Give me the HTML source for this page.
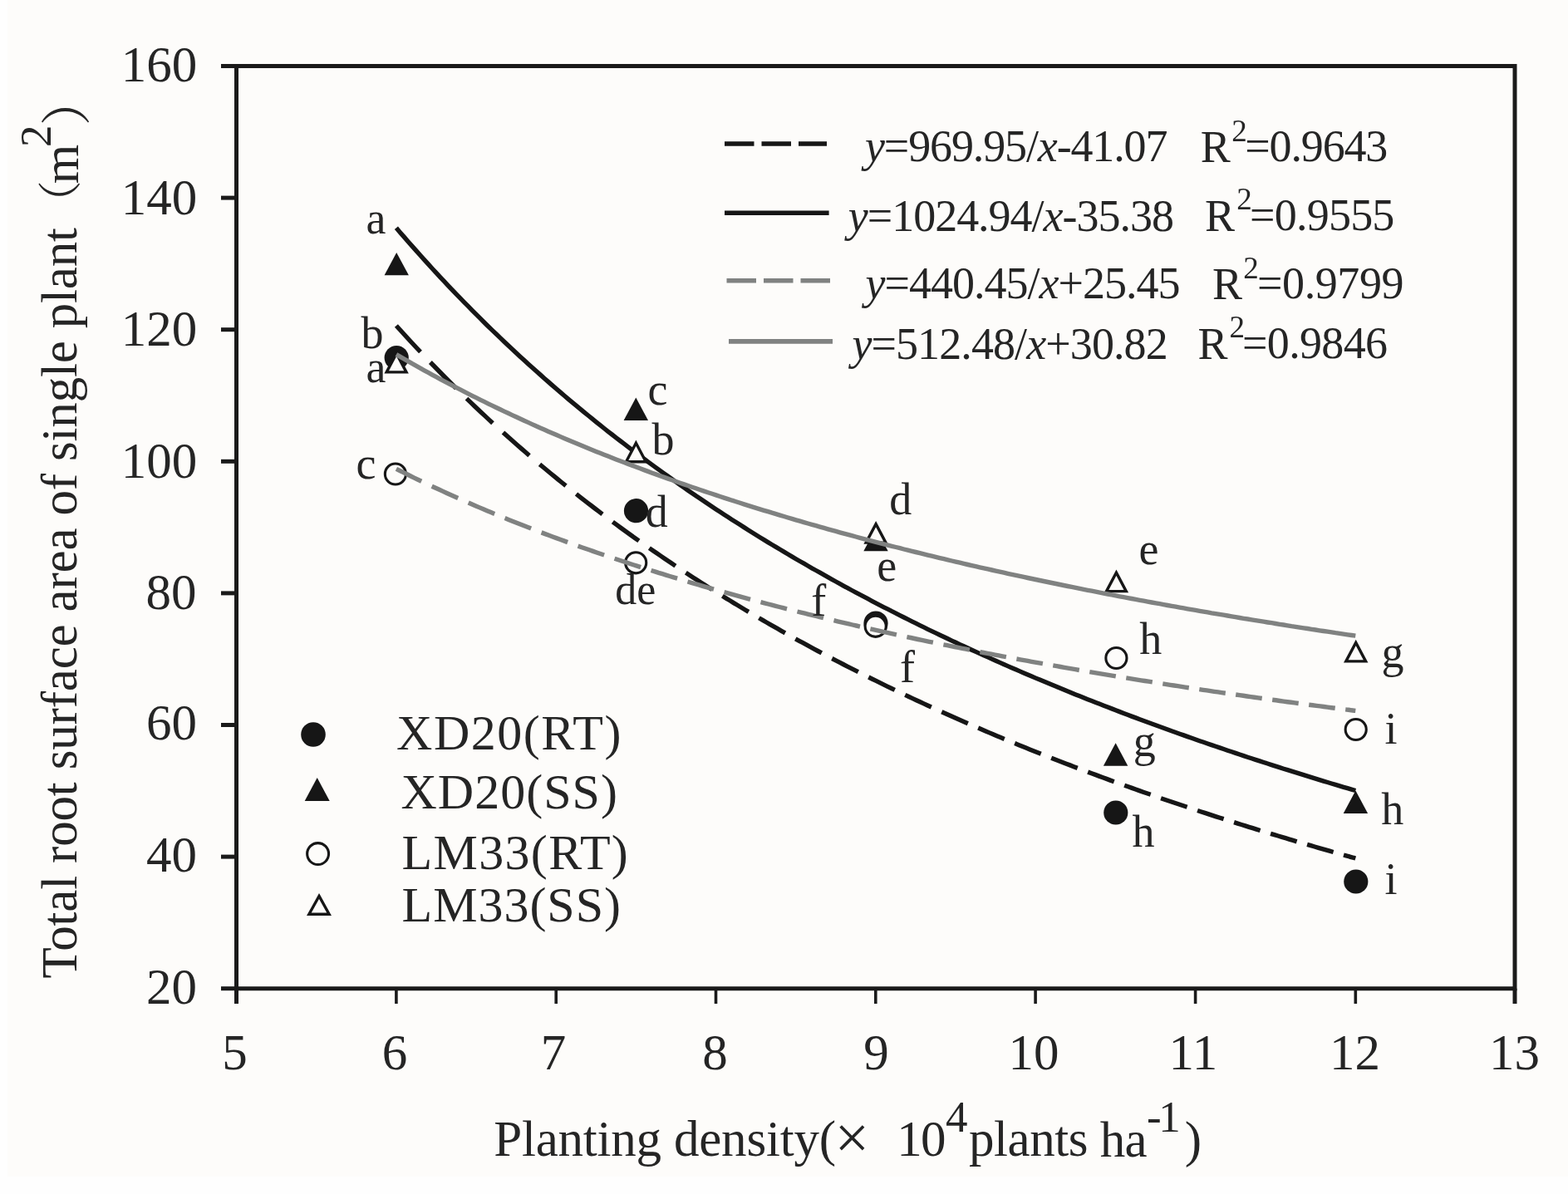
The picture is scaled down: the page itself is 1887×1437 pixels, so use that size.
<!DOCTYPE html>
<html><head><meta charset="utf-8"><title>Total root surface area of single plant vs planting density</title><style>
html,body{margin:0;padding:0;background:#fefefe;}
svg{display:block;}
.t{font-family:'Liberation Serif','Times New Roman',serif;fill:#252525;}
.cjk{font-family:'Noto Serif CJK SC','Liberation Serif',serif;}
</style></head><body>
<svg width="1887" height="1437" viewBox="0 0 1887 1437">
<rect x="9" y="0" width="1878" height="1416" fill="#fdfcfa"/>
<path d="M284.5,79.5 H1823 V1189.7 H284.5 Z" fill="none" stroke="#1a1a1a" stroke-width="5"/>
<line x1="266" y1="1189.7" x2="284.5" y2="1189.7" stroke="#1a1a1a" stroke-width="5"/>
<line x1="266" y1="1031.1" x2="284.5" y2="1031.1" stroke="#1a1a1a" stroke-width="5"/>
<line x1="266" y1="872.5" x2="284.5" y2="872.5" stroke="#1a1a1a" stroke-width="5"/>
<line x1="266" y1="713.9" x2="284.5" y2="713.9" stroke="#1a1a1a" stroke-width="5"/>
<line x1="266" y1="555.3" x2="284.5" y2="555.3" stroke="#1a1a1a" stroke-width="5"/>
<line x1="266" y1="396.7" x2="284.5" y2="396.7" stroke="#1a1a1a" stroke-width="5"/>
<line x1="266" y1="238.1" x2="284.5" y2="238.1" stroke="#1a1a1a" stroke-width="5"/>
<line x1="266" y1="79.5" x2="284.5" y2="79.5" stroke="#1a1a1a" stroke-width="5"/>
<line x1="284.5" y1="1189.7" x2="284.5" y2="1208" stroke="#1a1a1a" stroke-width="5"/>
<line x1="476.9" y1="1189.7" x2="476.9" y2="1208" stroke="#1a1a1a" stroke-width="3.6"/>
<line x1="669.2" y1="1189.7" x2="669.2" y2="1208" stroke="#1a1a1a" stroke-width="3.6"/>
<line x1="861.5" y1="1189.7" x2="861.5" y2="1208" stroke="#1a1a1a" stroke-width="3.6"/>
<line x1="1053.8" y1="1189.7" x2="1053.8" y2="1208" stroke="#1a1a1a" stroke-width="3.6"/>
<line x1="1246.1" y1="1189.7" x2="1246.1" y2="1208" stroke="#1a1a1a" stroke-width="3.6"/>
<line x1="1438.6" y1="1189.7" x2="1438.6" y2="1208" stroke="#1a1a1a" stroke-width="3.6"/>
<line x1="1631.3" y1="1189.7" x2="1631.3" y2="1208" stroke="#1a1a1a" stroke-width="3.6"/>
<line x1="1823.0" y1="1189.7" x2="1823.0" y2="1208" stroke="#1a1a1a" stroke-width="5"/>
<path d="M476.9,392.0 L481.0,396.5 L485.1,401.0 L489.2,405.5 L493.3,410.0 L497.5,414.5 L501.7,419.0 L506.0,423.5 M517.9,436.0 L522.3,440.5 L526.7,445.0 L531.1,449.5 L535.5,454.0 L540.0,458.5 L544.5,463.0 L549.0,467.4 M561.5,479.6 L566.0,483.9 L570.5,488.2 L575.0,492.5 L579.5,496.7 L584.0,500.9 L588.5,505.1 L593.0,509.2 M605.5,520.5 L610.0,524.6 L614.5,528.6 L619.0,532.5 L623.5,536.5 L628.0,540.4 L632.5,544.3 L637.0,548.2 M649.5,558.8 L654.0,562.5 L658.5,566.3 L663.0,570.0 L667.5,573.7 L672.0,577.4 L676.5,581.0 L681.0,584.6 M693.5,594.5 L698.0,598.1 L702.5,601.6 L707.0,605.1 L711.5,608.5 L716.0,612.0 L720.5,615.4 L725.0,618.8 M737.4,628.1 L741.9,631.4 L746.4,634.7 L750.9,638.0 L755.4,641.2 L759.9,644.5 L764.4,647.7 L768.9,650.9 M781.4,659.6 L785.9,662.7 L790.4,665.8 L794.9,668.9 L799.4,672.0 L803.9,675.0 L808.4,678.0 L812.9,681.1 M825.4,689.3 L829.9,692.2 L834.4,695.2 L838.9,698.1 L843.4,701.0 L847.9,703.8 L852.4,706.7 L856.9,709.5 M869.4,717.3 L873.9,720.1 L878.4,722.8 L882.9,725.6 L887.4,728.3 L891.9,731.0 L896.4,733.7 L900.9,736.4 M913.4,743.7 L917.9,746.4 L922.4,749.0 L926.9,751.6 L931.4,754.2 L935.9,756.7 L940.4,759.3 L944.9,761.8 M957.3,768.8 L961.8,771.3 L966.3,773.7 L970.8,776.2 L975.3,778.6 L979.8,781.1 L984.3,783.5 L988.8,785.9 M1001.3,792.5 L1005.8,794.8 L1010.3,797.2 L1014.8,799.5 L1019.3,801.8 L1023.8,804.1 L1028.3,806.4 L1032.8,808.7 M1045.3,815.0 L1049.8,817.2 L1054.3,819.4 L1058.8,821.7 L1063.3,823.9 L1067.8,826.1 L1072.3,828.2 L1076.8,830.4 M1089.3,836.4 L1093.8,838.5 L1098.3,840.6 L1102.8,842.7 L1107.3,844.8 L1111.8,846.9 L1116.3,849.0 L1120.8,851.0 M1133.3,856.7 L1137.8,858.7 L1142.3,860.8 L1146.8,862.8 L1151.3,864.8 L1155.8,866.7 L1160.3,868.7 L1164.8,870.7 M1177.2,876.1 L1181.7,878.0 L1186.2,879.9 L1190.7,881.9 L1195.2,883.8 L1199.7,885.7 L1204.2,887.5 L1208.7,889.4 M1221.2,894.6 L1225.7,896.4 L1230.2,898.3 L1234.7,900.1 L1239.2,901.9 L1243.7,903.7 L1248.2,905.5 L1252.7,907.3 M1265.2,912.2 L1269.7,914.0 L1274.2,915.7 L1278.7,917.5 L1283.2,919.2 L1287.7,920.9 L1292.2,922.7 L1296.7,924.4 M1309.2,929.1 L1313.7,930.8 L1318.2,932.4 L1322.7,934.1 L1327.2,935.8 L1331.7,937.4 L1336.2,939.1 L1340.7,940.7 M1353.2,945.2 L1357.7,946.8 L1362.2,948.4 L1366.7,950.0 L1371.2,951.6 L1375.7,953.2 L1380.2,954.8 L1384.7,956.3 M1397.1,960.7 L1401.6,962.2 L1406.1,963.7 L1410.6,965.3 L1415.1,966.8 L1419.6,968.3 L1424.1,969.8 L1428.6,971.3 M1441.1,975.5 L1445.6,977.0 L1450.1,978.4 L1454.6,979.9 L1459.1,981.4 L1463.6,982.8 L1468.1,984.3 L1472.6,985.7 M1485.1,989.7 L1489.6,991.1 L1494.1,992.5 L1498.6,993.9 L1503.1,995.3 L1507.6,996.7 L1512.1,998.1 L1516.6,999.5 M1529.1,1003.3 L1533.6,1004.7 L1538.1,1006.0 L1542.6,1007.4 L1547.1,1008.7 L1551.6,1010.1 L1556.1,1011.4 L1560.6,1012.8 M1573.1,1016.4 L1577.6,1017.7 L1582.1,1019.0 L1586.6,1020.3 L1591.1,1021.6 L1595.6,1022.9 L1600.1,1024.2 L1604.6,1025.5 M1617.0,1029.0 L1619.1,1029.6 L1621.1,1030.2 L1623.2,1030.7 L1625.2,1031.3 L1627.2,1031.9 L1629.3,1032.4 L1631.3,1033.0" fill="none" stroke="#161616" stroke-width="5.4"/>
<path d="M476.9,274.2 L481.7,279.9 L486.5,285.4 L491.3,291.0 L496.1,296.4 L501.0,301.9 L505.8,307.3 L510.6,312.6 L515.4,317.9 L520.2,323.2 L525.0,328.4 L529.8,333.6 L534.6,338.7 L539.4,343.8 L544.2,348.9 L549.0,353.9 L553.9,358.9 L558.7,363.8 L563.5,368.7 L568.3,373.6 L573.1,378.4 L577.9,383.2 L582.7,388.0 L587.5,392.7 L592.3,397.4 L597.2,402.0 L602.0,406.6 L606.8,411.2 L611.6,415.8 L616.4,420.3 L621.2,424.7 L626.0,429.2 L630.8,433.6 L635.6,438.0 L640.4,442.3 L645.2,446.6 L650.1,450.9 L654.9,455.2 L659.7,459.4 L664.5,463.6 L669.3,467.8 L674.1,471.9 L678.9,476.0 L683.7,480.1 L688.5,484.1 L693.4,488.1 L698.2,492.1 L703.0,496.1 L707.8,500.0 L712.6,503.9 L717.4,507.8 L722.2,511.6 L727.0,515.5 L731.8,519.3 L736.6,523.0 L741.5,526.8 L746.3,530.5 L751.1,534.2 L755.9,537.9 L760.7,541.5 L765.5,545.2 L770.3,548.8 L775.1,552.3 L779.9,555.9 L784.7,559.4 L789.5,562.9 L794.4,566.4 L799.2,569.9 L804.0,573.3 L808.8,576.7 L813.6,580.1 L818.4,583.5 L823.2,586.8 L828.0,590.2 L832.8,593.5 L837.6,596.8 L842.5,600.0 L847.3,603.3 L852.1,606.5 L856.9,609.7 L861.7,612.9 L866.5,616.1 L871.3,619.2 L876.1,622.3 L880.9,625.4 L885.8,628.5 L890.6,631.6 L895.4,634.6 L900.2,637.7 L905.0,640.7 L909.8,643.7 L914.6,646.7 L919.4,649.6 L924.2,652.6 L929.0,655.5 L933.9,658.4 L938.7,661.3 L943.5,664.1 L948.3,667.0 L953.1,669.8 L957.9,672.7 L962.7,675.5 L967.5,678.2 L972.3,681.0 L977.1,683.8 L982.0,686.5 L986.8,689.2 L991.6,691.9 L996.4,694.6 L1001.2,697.3 L1006.0,700.0 L1010.8,702.6 L1015.6,705.3 L1020.4,707.9 L1025.2,710.5 L1030.1,713.1 L1034.9,715.6 L1039.7,718.2 L1044.5,720.7 L1049.3,723.3 L1054.1,725.8 L1058.9,728.3 L1063.7,730.8 L1068.5,733.2 L1073.3,735.7 L1078.2,738.1 L1083.0,740.6 L1087.8,743.0 L1092.6,745.4 L1097.4,747.8 L1102.2,750.2 L1107.0,752.6 L1111.8,754.9 L1116.6,757.3 L1121.4,759.6 L1126.2,761.9 L1131.1,764.2 L1135.9,766.5 L1140.7,768.8 L1145.5,771.1 L1150.3,773.3 L1155.1,775.6 L1159.9,777.8 L1164.7,780.0 L1169.5,782.2 L1174.3,784.4 L1179.2,786.6 L1184.0,788.8 L1188.8,790.9 L1193.6,793.1 L1198.4,795.2 L1203.2,797.4 L1208.0,799.5 L1212.8,801.6 L1217.6,803.7 L1222.5,805.8 L1227.3,807.9 L1232.1,809.9 L1236.9,812.0 L1241.7,814.0 L1246.5,816.1 L1251.3,818.1 L1256.1,820.1 L1260.9,822.1 L1265.7,824.1 L1270.6,826.1 L1275.4,828.1 L1280.2,830.1 L1285.0,832.0 L1289.8,834.0 L1294.6,835.9 L1299.4,837.8 L1304.2,839.8 L1309.0,841.7 L1313.8,843.6 L1318.7,845.5 L1323.5,847.3 L1328.3,849.2 L1333.1,851.1 L1337.9,852.9 L1342.7,854.8 L1347.5,856.6 L1352.3,858.5 L1357.1,860.3 L1361.9,862.1 L1366.8,863.9 L1371.6,865.7 L1376.4,867.5 L1381.2,869.3 L1386.0,871.0 L1390.8,872.8 L1395.6,874.5 L1400.4,876.3 L1405.2,878.0 L1410.0,879.8 L1414.9,881.5 L1419.7,883.2 L1424.5,884.9 L1429.3,886.6 L1434.1,888.3 L1438.9,890.0 L1443.7,891.7 L1448.5,893.3 L1453.3,895.0 L1458.1,896.6 L1463.0,898.3 L1467.8,899.9 L1472.6,901.5 L1477.4,903.2 L1482.2,904.8 L1487.0,906.4 L1491.8,908.0 L1496.6,909.6 L1501.4,911.2 L1506.2,912.8 L1511.0,914.3 L1515.9,915.9 L1520.7,917.5 L1525.5,919.0 L1530.3,920.6 L1535.1,922.1 L1539.9,923.6 L1544.7,925.2 L1549.5,926.7 L1554.3,928.2 L1559.2,929.7 L1564.0,931.2 L1568.8,932.7 L1573.6,934.2 L1578.4,935.7 L1583.2,937.1 L1588.0,938.6 L1592.8,940.1 L1597.6,941.5 L1602.4,943.0 L1607.2,944.4 L1612.1,945.9 L1616.9,947.3 L1621.7,948.7 L1626.5,950.1 L1631.3,951.5" fill="none" stroke="#161616" stroke-width="5.4"/>
<circle cx="477.2" cy="430.5" r="14.6" fill="#161616"/>
<circle cx="765.5" cy="614.7" r="14.6" fill="#161616"/>
<circle cx="1054.0" cy="750.0" r="14.6" fill="#161616"/>
<circle cx="1342.8" cy="978.0" r="14.6" fill="#161616"/>
<circle cx="1631.8" cy="1061.0" r="14.6" fill="#161616"/>
<path d="M477.2,303.9 L491.9,331.2 L462.6,331.2 Z" fill="#161616"/>
<path d="M765.3,478.5 L780.0,505.9 L750.6,505.9 Z" fill="#161616"/>
<path d="M1054.0,635.9 L1068.7,663.3 L1039.3,663.3 Z" fill="#161616"/>
<path d="M1342.6,894.3 L1357.3,921.7 L1327.9,921.7 Z" fill="#161616"/>
<path d="M1631.4,951.5 L1646.1,978.9 L1616.7,978.9 Z" fill="#161616"/>
<circle cx="475.9" cy="570.5" r="12.55" fill="#fdfcfa" stroke="#161616" stroke-width="3.1"/>
<circle cx="765.2" cy="677.3" r="12.55" fill="#fdfcfa" stroke="#161616" stroke-width="3.1"/>
<circle cx="1053.7" cy="753.8" r="12.55" fill="#fdfcfa" stroke="#161616" stroke-width="3.1"/>
<circle cx="1343.4" cy="792.0" r="12.55" fill="#fdfcfa" stroke="#161616" stroke-width="3.1"/>
<circle cx="1631.7" cy="878.0" r="12.55" fill="#fdfcfa" stroke="#161616" stroke-width="3.1"/>
<path d="M477.1,425.4 L489.0,447.9 L465.2,447.9 Z" fill="#fdfcfa" stroke="#161616" stroke-width="3.4" stroke-linejoin="miter"/>
<path d="M765.4,533.2 L777.3,555.7 L753.5,555.7 Z" fill="#fdfcfa" stroke="#161616" stroke-width="3.4" stroke-linejoin="miter"/>
<path d="M1054.1,630.6 L1066.0,653.1 L1042.2,653.1 Z" fill="#fdfcfa" stroke="#161616" stroke-width="3.4" stroke-linejoin="miter"/>
<path d="M1343.4,689.1 L1355.3,711.6 L1331.5,711.6 Z" fill="#fdfcfa" stroke="#161616" stroke-width="3.4" stroke-linejoin="miter"/>
<path d="M1631.7,773.4 L1643.6,795.9 L1619.8,795.9 Z" fill="#fdfcfa" stroke="#161616" stroke-width="3.4" stroke-linejoin="miter"/>
<path d="M476.9,564.4 L481.2,566.5 L485.6,568.7 L489.9,570.8 L494.2,573.0 L498.5,575.1 L502.9,577.2 L507.2,579.2 M519.7,585.2 L524.2,587.3 L528.7,589.3 L533.2,591.4 L537.7,593.5 L542.2,595.5 L546.7,597.5 L551.2,599.5 M563.7,605.0 L568.2,607.0 L572.7,608.9 L577.2,610.9 L581.7,612.8 L586.2,614.7 L590.7,616.6 L595.2,618.4 M607.6,623.6 L612.1,625.4 L616.6,627.2 L621.1,629.0 L625.6,630.8 L630.1,632.6 L634.6,634.3 L639.1,636.1 M651.6,640.9 L656.1,642.6 L660.6,644.3 L665.1,646.0 L669.6,647.6 L674.1,649.3 L678.6,650.9 L683.1,652.6 M695.6,657.1 L700.1,658.7 L704.6,660.3 L709.1,661.8 L713.6,663.4 L718.1,665.0 L722.6,666.5 L727.1,668.0 M739.6,672.3 L744.1,673.8 L748.6,675.3 L753.1,676.7 L757.6,678.2 L762.1,679.7 L766.6,681.1 L771.1,682.6 M783.6,686.5 L788.1,687.9 L792.6,689.4 L797.1,690.7 L801.6,692.1 L806.1,693.5 L810.6,694.9 L815.1,696.2 M827.5,700.0 L832.0,701.3 L836.5,702.6 L841.0,703.9 L845.5,705.3 L850.0,706.6 L854.5,707.8 L859.0,709.1 M871.5,712.7 L876.0,713.9 L880.5,715.2 L885.0,716.4 L889.5,717.6 L894.0,718.9 L898.5,720.1 L903.0,721.3 M915.5,724.6 L920.0,725.8 L924.5,727.0 L929.0,728.2 L933.5,729.3 L938.0,730.5 L942.5,731.7 L947.0,732.8 M959.5,736.0 L964.0,737.1 L968.5,738.2 L973.0,739.3 L977.5,740.4 L982.0,741.5 L986.5,742.6 L991.0,743.7 M1003.5,746.7 L1008.0,747.8 L1012.5,748.8 L1017.0,749.9 L1021.5,750.9 L1026.0,752.0 L1030.5,753.0 L1035.0,754.1 M1047.4,756.9 L1051.9,757.9 L1056.4,758.9 L1060.9,759.9 L1065.4,760.9 L1069.9,761.9 L1074.4,762.9 L1078.9,763.9 M1091.4,766.6 L1095.9,767.5 L1100.4,768.5 L1104.9,769.5 L1109.4,770.4 L1113.9,771.4 L1118.4,772.3 L1122.9,773.2 M1135.4,775.8 L1139.9,776.7 L1144.4,777.6 L1148.9,778.5 L1153.4,779.4 L1157.9,780.3 L1162.4,781.2 L1166.9,782.1 M1179.4,784.6 L1183.9,785.5 L1188.4,786.3 L1192.9,787.2 L1197.4,788.1 L1201.9,788.9 L1206.4,789.8 L1210.9,790.6 M1223.4,793.0 L1227.9,793.8 L1232.4,794.6 L1236.9,795.4 L1241.4,796.3 L1245.9,797.1 L1250.4,797.9 L1254.9,798.7 M1267.3,800.9 L1271.8,801.7 L1276.3,802.5 L1280.8,803.3 L1285.3,804.1 L1289.8,804.9 L1294.3,805.7 L1298.8,806.5 M1311.3,808.6 L1315.8,809.4 L1320.3,810.1 L1324.8,810.9 L1329.3,811.6 L1333.8,812.4 L1338.3,813.1 L1342.8,813.9 M1355.3,815.9 L1359.8,816.6 L1364.3,817.4 L1368.8,818.1 L1373.3,818.8 L1377.8,819.5 L1382.3,820.2 L1386.8,820.9 M1399.3,822.9 L1403.8,823.6 L1408.3,824.3 L1412.8,825.0 L1417.3,825.7 L1421.8,826.4 L1426.3,827.1 L1430.8,827.7 M1443.3,829.6 L1447.8,830.3 L1452.3,830.9 L1456.8,831.6 L1461.3,832.3 L1465.8,832.9 L1470.3,833.6 L1474.8,834.2 M1487.2,836.0 L1491.7,836.7 L1496.2,837.3 L1500.7,838.0 L1505.2,838.6 L1509.7,839.2 L1514.2,839.9 L1518.7,840.5 M1531.2,842.2 L1535.7,842.8 L1540.2,843.5 L1544.7,844.1 L1549.2,844.7 L1553.7,845.3 L1558.2,845.9 L1562.7,846.5 M1575.2,848.2 L1579.7,848.8 L1584.2,849.4 L1588.7,849.9 L1593.2,850.5 L1597.7,851.1 L1602.2,851.7 L1606.7,852.3 M1619.2,853.9 L1620.9,854.1 L1622.6,854.3 L1624.4,854.5 L1626.1,854.8 L1627.8,855.0 L1629.6,855.2 L1631.3,855.4" fill="none" stroke="#808281" stroke-width="5.4"/>
<path d="M476.9,426.6 L481.7,429.4 L486.5,432.2 L491.3,434.9 L496.1,437.7 L501.0,440.4 L505.8,443.1 L510.6,445.8 L515.4,448.4 L520.2,451.1 L525.0,453.7 L529.8,456.3 L534.6,458.8 L539.4,461.4 L544.2,463.9 L549.0,466.4 L553.9,468.9 L558.7,471.4 L563.5,473.8 L568.3,476.3 L573.1,478.7 L577.9,481.1 L582.7,483.4 L587.5,485.8 L592.3,488.1 L597.2,490.5 L602.0,492.8 L606.8,495.1 L611.6,497.3 L616.4,499.6 L621.2,501.8 L626.0,504.0 L630.8,506.3 L635.6,508.4 L640.4,510.6 L645.2,512.8 L650.1,514.9 L654.9,517.0 L659.7,519.2 L664.5,521.2 L669.3,523.3 L674.1,525.4 L678.9,527.4 L683.7,529.5 L688.5,531.5 L693.4,533.5 L698.2,535.5 L703.0,537.5 L707.8,539.5 L712.6,541.4 L717.4,543.4 L722.2,545.3 L727.0,547.2 L731.8,549.1 L736.6,551.0 L741.5,552.9 L746.3,554.7 L751.1,556.6 L755.9,558.4 L760.7,560.2 L765.5,562.0 L770.3,563.8 L775.1,565.6 L779.9,567.4 L784.7,569.2 L789.5,570.9 L794.4,572.7 L799.2,574.4 L804.0,576.1 L808.8,577.8 L813.6,579.5 L818.4,581.2 L823.2,582.9 L828.0,584.5 L832.8,586.2 L837.6,587.8 L842.5,589.5 L847.3,591.1 L852.1,592.7 L856.9,594.3 L861.7,595.9 L866.5,597.5 L871.3,599.1 L876.1,600.6 L880.9,602.2 L885.8,603.7 L890.6,605.3 L895.4,606.8 L900.2,608.3 L905.0,609.8 L909.8,611.3 L914.6,612.8 L919.4,614.3 L924.2,615.7 L929.0,617.2 L933.9,618.6 L938.7,620.1 L943.5,621.5 L948.3,623.0 L953.1,624.4 L957.9,625.8 L962.7,627.2 L967.5,628.6 L972.3,630.0 L977.1,631.3 L982.0,632.7 L986.8,634.1 L991.6,635.4 L996.4,636.8 L1001.2,638.1 L1006.0,639.4 L1010.8,640.8 L1015.6,642.1 L1020.4,643.4 L1025.2,644.7 L1030.1,646.0 L1034.9,647.3 L1039.7,648.6 L1044.5,649.8 L1049.3,651.1 L1054.1,652.3 L1058.9,653.6 L1063.7,654.8 L1068.5,656.1 L1073.3,657.3 L1078.2,658.5 L1083.0,659.7 L1087.8,661.0 L1092.6,662.2 L1097.4,663.4 L1102.2,664.5 L1107.0,665.7 L1111.8,666.9 L1116.6,668.1 L1121.4,669.2 L1126.2,670.4 L1131.1,671.6 L1135.9,672.7 L1140.7,673.8 L1145.5,675.0 L1150.3,676.1 L1155.1,677.2 L1159.9,678.4 L1164.7,679.5 L1169.5,680.6 L1174.3,681.7 L1179.2,682.8 L1184.0,683.8 L1188.8,684.9 L1193.6,686.0 L1198.4,687.1 L1203.2,688.1 L1208.0,689.2 L1212.8,690.3 L1217.6,691.3 L1222.5,692.4 L1227.3,693.4 L1232.1,694.4 L1236.9,695.5 L1241.7,696.5 L1246.5,697.5 L1251.3,698.5 L1256.1,699.5 L1260.9,700.5 L1265.7,701.5 L1270.6,702.5 L1275.4,703.5 L1280.2,704.5 L1285.0,705.5 L1289.8,706.4 L1294.6,707.4 L1299.4,708.4 L1304.2,709.3 L1309.0,710.3 L1313.8,711.2 L1318.7,712.2 L1323.5,713.1 L1328.3,714.1 L1333.1,715.0 L1337.9,715.9 L1342.7,716.9 L1347.5,717.8 L1352.3,718.7 L1357.1,719.6 L1361.9,720.5 L1366.8,721.4 L1371.6,722.3 L1376.4,723.2 L1381.2,724.1 L1386.0,725.0 L1390.8,725.9 L1395.6,726.7 L1400.4,727.6 L1405.2,728.5 L1410.0,729.3 L1414.9,730.2 L1419.7,731.1 L1424.5,731.9 L1429.3,732.8 L1434.1,733.6 L1438.9,734.4 L1443.7,735.3 L1448.5,736.1 L1453.3,736.9 L1458.1,737.8 L1463.0,738.6 L1467.8,739.4 L1472.6,740.2 L1477.4,741.0 L1482.2,741.9 L1487.0,742.7 L1491.8,743.5 L1496.6,744.3 L1501.4,745.0 L1506.2,745.8 L1511.0,746.6 L1515.9,747.4 L1520.7,748.2 L1525.5,749.0 L1530.3,749.7 L1535.1,750.5 L1539.9,751.3 L1544.7,752.0 L1549.5,752.8 L1554.3,753.6 L1559.2,754.3 L1564.0,755.1 L1568.8,755.8 L1573.6,756.5 L1578.4,757.3 L1583.2,758.0 L1588.0,758.8 L1592.8,759.5 L1597.6,760.2 L1602.4,760.9 L1607.2,761.7 L1612.1,762.4 L1616.9,763.1 L1621.7,763.8 L1626.5,764.5 L1631.3,765.2" fill="none" stroke="#808281" stroke-width="5.4"/>
<path d="M872.0,173 H907.5 M916.5,173 H952.0 M961.0,173 H995.0" stroke="#161616" stroke-width="5.6" fill="none"/>
<line x1="872" y1="256.3" x2="997.6" y2="256.3" stroke="#161616" stroke-width="5.6"/>
<path d="M874.5,337.8 H910.0 M919.0,337.8 H954.5 M963.5,337.8 H999.0" stroke="#808281" stroke-width="5.6" fill="none"/>
<line x1="877" y1="410.9" x2="1002" y2="410.9" stroke="#808281" stroke-width="5.6"/>
<circle cx="377.0" cy="884.0" r="14.8" fill="#161616"/>
<path d="M381.7,936.1 L396.7,964.1 L366.7,964.1 Z" fill="#161616"/>
<circle cx="382.6" cy="1027.6" r="12.95" fill="#fdfcfa" stroke="#161616" stroke-width="3.1"/>
<path d="M384.0,1078.4 L396.1,1100.3 L371.9,1100.3 Z" fill="#fdfcfa" stroke="#161616" stroke-width="3.4" stroke-linejoin="miter"/>
<text class="t" font-size="61.00" x="145.80" y="98.00">160</text>
<text class="t" font-size="61.00" x="145.80" y="257.95">140</text>
<text class="t" font-size="61.00" x="145.80" y="415.50">120</text>
<text class="t" font-size="61.00" x="145.80" y="574.65">100</text>
<text class="t" font-size="61.00" x="175.50" y="732.95">80</text>
<text class="t" font-size="61.00" x="176.10" y="889.70">60</text>
<text class="t" font-size="61.00" x="176.10" y="1049.10">40</text>
<text class="t" font-size="61.00" x="176.10" y="1208.30">20</text>
<text class="t" font-size="61.00" x="267.25" y="1286.95">5</text>
<text class="t" font-size="61.00" x="459.80" y="1286.95">6</text>
<text class="t" font-size="61.00" x="650.80" y="1287.45">7</text>
<text class="t" font-size="61.00" x="845.35" y="1286.95">8</text>
<text class="t" font-size="61.00" x="1039.15" y="1286.95">9</text>
<text class="t" font-size="61.00" x="1213.50" y="1286.95">10</text>
<text class="t" font-size="61.00" x="1406.50" y="1287.45">11</text>
<text class="t" font-size="61.00" x="1600.00" y="1287.45">12</text>
<text class="t" font-size="61.00" x="1792.00" y="1286.95">13</text>
<text class="t" font-size="60.00" x="477.00" y="902.45" textLength="270.49" lengthAdjust="spacing">XD20(RT)</text>
<text class="t" font-size="60.00" x="482.40" y="972.95" textLength="260.56" lengthAdjust="spacing">XD20(SS)</text>
<text class="t" font-size="60.00" x="483.60" y="1045.55" textLength="272.23" lengthAdjust="spacing">LM33(RT)</text>
<text class="t" font-size="60.00" x="483.60" y="1109.10" textLength="263.40" lengthAdjust="spacing">LM33(SS)</text>
<text class="t" font-size="54.00" x="1041.00" y="193.75" textLength="364.49" lengthAdjust="spacing"><tspan font-style="italic">y</tspan>=969.95/<tspan font-style="italic">x</tspan>-41.07</text>
<text class="t" font-size="54.00" x="1020.80" y="278.10" textLength="392.09" lengthAdjust="spacing"><tspan font-style="italic">y</tspan>=1024.94/<tspan font-style="italic">x</tspan>-35.38</text>
<text class="t" font-size="54.00" x="1041.60" y="358.85" textLength="378.88" lengthAdjust="spacing"><tspan font-style="italic">y</tspan>=440.45/<tspan font-style="italic">x</tspan>+25.45</text>
<text class="t" font-size="54.00" x="1025.40" y="431.90" textLength="380.28" lengthAdjust="spacing"><tspan font-style="italic">y</tspan>=512.48/<tspan font-style="italic">x</tspan>+30.82</text>
<text class="t" font-size="54.00" x="1444.80" y="194.90">R</text>
<text class="t" font-size="37.00" x="1482.15" y="170.00">2</text>
<text class="t" font-size="54.00" x="1498.20" y="193.60" textLength="172.17" lengthAdjust="spacing">=0.9643</text>
<text class="t" font-size="54.00" x="1450.00" y="278.05">R</text>
<text class="t" font-size="37.00" x="1488.20" y="251.85">2</text>
<text class="t" font-size="54.00" x="1504.00" y="276.60" textLength="174.37" lengthAdjust="spacing">=0.9555</text>
<text class="t" font-size="54.00" x="1459.00" y="359.90">R</text>
<text class="t" font-size="37.00" x="1496.35" y="335.00">2</text>
<text class="t" font-size="54.00" x="1513.00" y="358.60" textLength="176.47" lengthAdjust="spacing">=0.9799</text>
<text class="t" font-size="54.00" x="1441.60" y="432.25">R</text>
<text class="t" font-size="37.00" x="1479.55" y="406.05">2</text>
<text class="t" font-size="54.00" x="1495.00" y="430.80" textLength="175.07" lengthAdjust="spacing">=0.9846</text>
<text class="t" font-size="61.00" x="594.20" y="1391.40" textLength="411.83" lengthAdjust="spacing">Planting density(</text>
<text class="t" font-size="73.79" x="1004.50" y="1394.00">×</text>
<text class="t" font-size="61.00" x="1079.20" y="1391.00" textLength="59.30" lengthAdjust="spacing">10</text>
<text class="t" font-size="53.00" x="1138.05" y="1361.50">4</text>
<text class="t" font-size="61.00" x="1166.00" y="1391.35" textLength="143.42" lengthAdjust="spacing">plants</text>
<text class="t" font-size="61.00" x="1323.80" y="1391.60" textLength="56.68" lengthAdjust="spacing">ha</text>
<text class="t" font-size="53.00" x="1380.00" y="1362.45" textLength="40.66" lengthAdjust="spacing">-1</text>
<text class="t" font-size="61.00" x="1425.70" y="1391.85">)</text>
<text class="t" font-size="61.00" transform="translate(92.00,1177.60) rotate(-90)" textLength="903.56" lengthAdjust="spacing">Total root surface area of single plant</text>
<text class="t cjk" font-size="53.00" transform="translate(91.65,270.20) rotate(-90)">（</text>
<text class="t" font-size="61.00" transform="translate(94.40,221.30) rotate(-90)">m</text>
<text class="t" font-size="53.00" transform="translate(60.85,177.00) rotate(-90)">2</text>
<text class="t cjk" font-size="61.00" transform="translate(102.30,151.30) rotate(-90)">）</text>
<text class="t" font-size="54.00" x="440.55" y="280.50">a</text>
<text class="t" font-size="54.00" x="434.50" y="419.25">b</text>
<text class="t" font-size="54.00" x="440.55" y="460.25">a</text>
<text class="t" font-size="54.00" x="428.55" y="576.10">c</text>
<text class="t" font-size="54.00" x="779.60" y="487.10">c</text>
<text class="t" font-size="54.00" x="784.40" y="546.95">b</text>
<text class="t" font-size="54.00" x="776.70" y="633.60">d</text>
<text class="t" font-size="52.00" x="740.25" y="726.75">de</text>
<text class="t" font-size="54.00" x="1070.15" y="618.95">d</text>
<text class="t" font-size="54.00" x="1055.15" y="698.75">e</text>
<text class="t" font-size="54.00" x="976.30" y="741.25">f</text>
<text class="t" font-size="54.00" x="1082.95" y="820.95">f</text>
<text class="t" font-size="54.00" x="1370.55" y="679.40">e</text>
<text class="t" font-size="54.00" x="1371.20" y="786.90">h</text>
<text class="t" font-size="54.00" x="1363.65" y="909.75">g</text>
<text class="t" font-size="54.00" x="1362.40" y="1018.60">h</text>
<text class="t" font-size="54.00" x="1662.40" y="803.05">g</text>
<text class="t" font-size="54.00" x="1666.40" y="895.45">i</text>
<text class="t" font-size="54.00" x="1662.20" y="991.55">h</text>
<text class="t" font-size="54.00" x="1666.40" y="1076.05">i</text>
</svg>
</body></html>
